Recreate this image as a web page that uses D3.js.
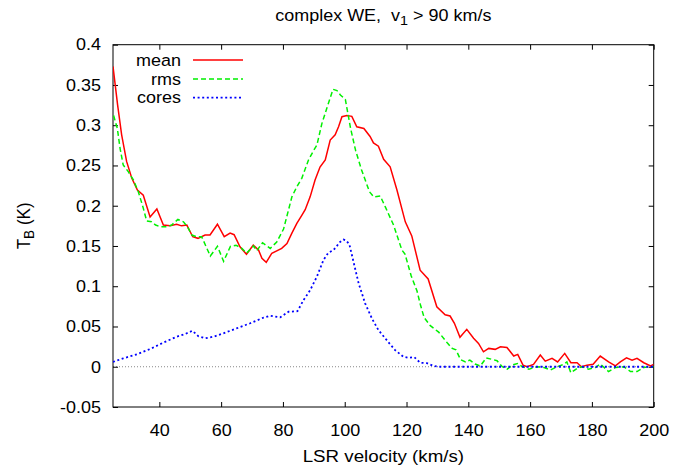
<!DOCTYPE html>
<html><head><meta charset="utf-8">
<script src="https://cdn.jsdelivr.net/npm/d3@7"></script>
<style>
html,body{margin:0;padding:0;background:#fff;}
svg{display:block;}
text{font-family:"Liberation Sans",Arial,Helvetica,sans-serif;fill:#000;white-space:pre;}
</style></head>
<body>
<svg id="chart" width="688" height="466"></svg>
<script>
// ---- data ----
const meanV = [25,26.5,27.8,29.4,31.1,32.9,34.8,37.0,39.2,41.3,43.5,45.6,47.2,48.9,50.8,52.5,54.8,56.4,58.8,61.0,62.9,64.2,66.1,68.2,70.4,72.1,73.2,74.6,76.4,78.0,79.6,81.3,82.9,84.5,86.1,87.2,88.8,90.4,92.0,93.7,95.3,96.9,98.0,99.1,100.7,102.3,103.9,106.2,108.2,109.3,110.9,112.6,114.7,116.9,119.6,121.7,124.4,127.0,129.8,132.5,134.1,135.5,137.3,139.5,141.7,143.3,144.9,146.6,148.7,150.4,152.5,154.7,156.0,157.7,159.0,161.1,163.3,164.9,167.1,168.9,171.2,173.2,175.2,176.6,178.4,180.4,182.7,185.4,187.6,189.2,191.2,193.0,194.6,196.8,199.0,200];
const meanT = [0.373,0.325,0.288,0.255,0.234,0.2195,0.213,0.186,0.196,0.176,0.175,0.177,0.175,0.176,0.1615,0.1595,0.1636,0.1636,0.177,0.1615,0.166,0.164,0.149,0.1398,0.151,0.145,0.1347,0.1297,0.141,0.144,0.147,0.153,0.166,0.178,0.188,0.195,0.211,0.232,0.248,0.257,0.2816,0.288,0.298,0.3106,0.312,0.311,0.298,0.296,0.286,0.278,0.274,0.2576,0.2484,0.2195,0.18,0.1625,0.12,0.109,0.0745,0.0645,0.063,0.054,0.0365,0.0464,0.0353,0.029,0.0186,0.0228,0.0216,0.0248,0.024,0.0133,0.0154,0.002,0.0,0.003,0.0145,0.007,0.0104,0.006,0.0166,0.005,0.005,0.0,0.002,0.003,0.0133,0.006,0.001,0.006,0.011,0.008,0.0104,0.005,0.001,0.003];

const rmsV = [25.2,26.4,27.3,28.3,30.0,31.6,33.2,34.8,35.9,37.5,38.8,40.2,42.4,44.0,46.0,47.8,49.1,50.5,52.1,53.7,56.5,58.8,60.8,63.0,64.8,66.7,68.2,70.5,71.5,73.4,75.9,78.0,80.2,81.8,82.9,84.5,86.1,88.3,90.0,91.0,92.6,94.2,96.2,97.5,98.6,100.2,101.9,103.5,105.4,107.0,108.0,109.4,111.5,113.1,115.8,118.5,119.5,121.5,123.4,124.5,125.7,127.7,130.4,133.1,134.8,136.0,137.5,139.1,140.5,142.2,143.9,145.8,147.7,149.3,151.0,152.6,154.2,155.9,157.5,159.6,162.3,164.5,166.6,168.7,170.6,171.9,173.2,175.2,176.8,178.9,181.1,182.7,185.4,187.6,190.3,192.5,194.6,196.8,198.4,200];
const rmsT = [0.312,0.296,0.271,0.2506,0.242,0.232,0.2174,0.197,0.181,0.180,0.176,0.174,0.174,0.176,0.183,0.180,0.174,0.1636,0.1615,0.1615,0.1375,0.1495,0.131,0.1495,0.151,0.147,0.141,0.150,0.144,0.154,0.147,0.155,0.171,0.1947,0.211,0.2236,0.234,0.257,0.269,0.2754,0.302,0.321,0.3446,0.343,0.3375,0.332,0.296,0.269,0.245,0.228,0.2174,0.211,0.212,0.1988,0.176,0.145,0.140,0.113,0.094,0.077,0.061,0.051,0.043,0.030,0.0228,0.021,0.0088,0.006,0.0083,0.0034,0.0009,0.011,0.0092,0.0075,0.0,-0.003,0.002,0.004,0.0,-0.003,0.0,-0.001,-0.004,0.0,0.0025,0.006,-0.0075,-0.002,0.0,-0.003,-0.001,0.0034,-0.006,-0.001,0.0,-0.006,-0.006,-0.001,0.0,0.0];

const coresV = [25,28.3,32.7,37.0,41.3,45.6,48.3,50.7,52.6,54.8,57.5,60.7,65.0,69.4,73.7,75.9,79.1,81.8,84.7,86.7,88.8,91.0,93.1,94.7,96.4,98.5,99.6,100.4,101.5,102.8,104.5,106.6,108.8,110.9,113.6,116.3,119.0,120.6,122.5,124.4,126.6,128.7,130.9,140,150,160,170,180,190,200];
const coresT = [0.006,0.0104,0.0154,0.022,0.030,0.0373,0.0406,0.0447,0.038,0.0353,0.0373,0.0415,0.0477,0.054,0.061,0.0634,0.0614,0.0683,0.069,0.083,0.095,0.112,0.1325,0.1416,0.145,0.155,0.158,0.157,0.152,0.131,0.1036,0.0788,0.060,0.0456,0.033,0.0207,0.0124,0.011,0.012,0.005,0.0045,0.001,0,0,0,0,0,0,0,0];

const xTicks = [40,60,80,100,120,140,160,180,200];
const yTicks = [-0.05,0,0.05,0.1,0.15,0.2,0.25,0.3,0.35,0.4];
const seriesNames = ["mean","rms","cores"];
const titleMain = "complex WE,  v", titleSub = "1", titleTail = " > 90 km/s";
const xLabel = "LSR velocity (km/s)";

// ---- layout ----
const L = 113, R = 653.7, T = 44.7, B = 407;
const SX = 1.09, FS = 16.5;
const svg = d3.select("#chart");
const x = d3.scaleLinear().domain([25,200]).range([L,R]);
const y = d3.scaleLinear().domain([-0.05,0.4]).range([B,T]);

// zero line
svg.append("line").attr("x1",x(25)).attr("x2",x(200)).attr("y1",y(0)).attr("y2",y(0))
  .attr("stroke","#888").attr("stroke-width",1).attr("stroke-dasharray","1,2");

// axes (ticks inward, mirrored)
function styleAxis(g){ g.select(".domain").remove(); g.selectAll(".tick line").attr("stroke","#000"); }
const fmt = d => String(+d.toFixed(2));
const gx = svg.append("g").attr("transform",`translate(0,${B})`)
  .call(d3.axisBottom(x).tickValues(xTicks).tickSize(-5).tickPadding(17).tickFormat(fmt));
const gy = svg.append("g").attr("transform",`translate(${L},0)`)
  .call(d3.axisLeft(y).tickValues(yTicks).tickSize(-5).tickPadding(11).tickFormat(fmt));
svg.append("g").attr("transform",`translate(0,${T})`)
  .call(d3.axisTop(x).tickValues(xTicks).tickSize(-5).tickFormat("")).call(styleAxis);
svg.append("g").attr("transform",`translate(${R},0)`)
  .call(d3.axisRight(y).tickValues(yTicks).tickSize(-5).tickFormat("")).call(styleAxis);
[gx,gy].forEach(g=>{
  styleAxis(g);
  g.selectAll("text").attr("font-size",FS).attr("fill","#000")
    .attr("font-family",null).attr("transform",`scale(${SX},1)`);
});

// frame
svg.append("rect").attr("x",L).attr("y",T).attr("width",R-L).attr("height",B-T)
  .attr("fill","none").attr("stroke","#000").attr("stroke-width",1);

// series
const line = d3.line().x(d=>x(d[0])).y(d=>y(d[1]));
const series = [
  {name:seriesNames[0], data:d3.zip(meanV,meanT), color:"#ff0000", dash:null, w:1.5},
  {name:seriesNames[1], data:d3.zip(rmsV,rmsT), color:"#00f000", dash:"5,3", w:1.5},
  {name:seriesNames[2], data:d3.zip(coresV,coresT), color:"#0000ff", dash:"2,2.6", w:1.8}
];
const clip = svg.append("clipPath").attr("id","clip").append("rect")
  .attr("x",L).attr("y",T).attr("width",R-L).attr("height",B-T);
series.forEach(s=>{
  svg.append("path").attr("d",line(s.data)).attr("fill","none")
    .attr("stroke",s.color).attr("stroke-width",s.w)
    .attr("stroke-dasharray",s.dash).attr("clip-path","url(#clip)");
});

// legend
const legY = [60,79,97.6];
series.forEach((s,i)=>{
  svg.append("text").attr("transform",`translate(181,${legY[i]}) scale(${SX},1)`)
    .attr("text-anchor","end").attr("dy","0.35em").attr("font-size",FS).text(s.name);
  svg.append("line").attr("x1",193).attr("x2",243).attr("y1",legY[i]).attr("y2",legY[i])
    .attr("stroke",s.color).attr("stroke-width",s.w).attr("stroke-dasharray",s.dash);
});

// title
const tt = svg.append("text").attr("transform",`translate(${(L+R)/2},21) scale(${SX},1)`)
  .attr("text-anchor","middle").attr("font-size",FS);
tt.append("tspan").text(titleMain);
tt.append("tspan").attr("font-size",FS*0.8).attr("dy",4).text(titleSub);
tt.append("tspan").attr("dy",-4).text(titleTail);

// x label
svg.append("text").attr("transform",`translate(${(L+R)/2},462) scale(${SX},1)`)
  .attr("text-anchor","middle").attr("font-size",17.2).text(xLabel);

// y label
const yl = svg.append("text").attr("transform",`translate(30,${(T+B)/2}) rotate(-90) scale(1,${SX})`)
  .attr("text-anchor","middle").attr("font-size",17);
yl.append("tspan").text("T");
yl.append("tspan").attr("font-size",17*0.8).attr("dy",4).text("B");
yl.append("tspan").attr("dy",-4).text(" (K)");
</script>
</body></html>
